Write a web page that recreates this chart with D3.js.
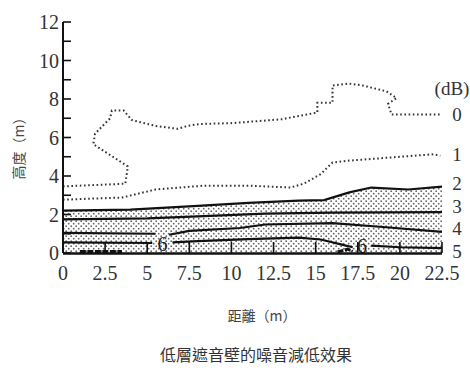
<!DOCTYPE html>
<html><head><meta charset="utf-8">
<script src="https://cdn.jsdelivr.net/npm/d3@7"></script>
<style>
html,body{margin:0;padding:0;background:#fff;}
svg{display:block;}
</style>
</head><body>
<svg id="c" width="470" height="374"></svg>
<script>
// ---- data ----
const xTicks = [0, 2.5, 5, 7.5, 10, 12.5, 15, 17.5, 20, 22.5];
const xTickLabels = ["0", "2.5", "5", "7.5", "10", "12.5", "15", "17.5", "20", "22.5"];
const yTicks = [0, 2, 4, 6, 8, 10, 12];
const yMinorTicks = [1, 3, 5, 7, 9, 11];
const contourLabels = ["0", "1", "2", "3", "4", "5"];
const contourLabelY = [7.2, 5.1, 3.6, 2.4, 1.25, 0.1];
const db0 = [[0,3.46],[3.7,3.6],[3.85,4.5],[1.8,5.65],[1.9,6.2],[2.8,7.0],[2.9,7.4],[3.6,7.4],[4.1,6.9],[5.5,6.6],[6.8,6.45],[7.4,6.6],[8.1,6.7],[10.1,6.75],[13.0,6.95],[14.5,7.2],[15.1,7.3],[15.1,7.8],[16.0,7.8],[16.0,8.7],[17.0,8.8],[17.8,8.7],[19.2,8.4],[19.8,8.05],[19.3,7.75],[19.5,7.2],[22.4,7.2]];
const db1 = [[0,2.77],[3.5,2.88],[5.5,3.3],[8.4,3.5],[11,3.5],[13.5,3.4],[14.3,3.6],[15.3,4.1],[16.0,4.7],[17.0,4.8],[22.0,5.13],[22.4,5.05]];
const db2 = [[0,2.2],[4,2.25],[8,2.45],[11,2.6],[14,2.72],[15.5,2.75],[17,3.15],[18.3,3.4],[20.5,3.3],[22.5,3.45]];
const db3 = [[0,1.75],[5,1.8],[8,1.9],[12,2.05],[16,2.1],[22.5,2.12]];
const db4a = [[0,1.05],[5.5,1.0]];
const db4b = [[6.3,0.95],[7.5,1.15],[10.5,1.3],[12,1.48],[16,1.55],[19,1.35],[22.5,1.1]];
const db5a = [[0,0.55],[5.3,0.52]];
const db5b = [[6.5,0.55],[8,0.62],[11,0.72],[14,0.8],[15.3,0.7],[16.5,0.45],[17.2,0.3]];
const db5c = [[18.3,0.38],[20,0.3],[22.5,0.25]];
const db6a = [[1.0,0.08],[3.5,0.08]];
const db6b = [[16.3,0.05],[16.9,0.2],[17.2,0.08]];
const label6 = [[5.9,0.5],[17.75,0.38]];

// ---- chart ----
const svg = d3.select("#c");
const x = d3.scaleLinear().domain([0,22.5]).range([63,442]);
const y = d3.scaleLinear().domain([0,12]).range([253,22]);
const line = d3.line().x(d=>x(d[0])).y(d=>y(d[1]));

const defs = svg.append("defs");
const pat = defs.append("pattern").attr("id","stip").attr("patternUnits","userSpaceOnUse")
  .attr("width",5).attr("height",5);
pat.append("circle").attr("cx",1.2).attr("cy",1.2).attr("r",0.9).attr("fill","#666");
pat.append("circle").attr("cx",3.7).attr("cy",3.7).attr("r",0.9).attr("fill","#666");

// stipple area under 2 dB
const area = d3.area().x(d=>x(d[0])).y0(y(0)).y1(d=>y(d[1]));
svg.append("path").datum(db2).attr("d",area).attr("fill","url(#stip)");

// dotted contours
[db0, db1].forEach(d=>{
  svg.append("path").datum(d).attr("d",line).attr("fill","none")
    .attr("stroke","#333").attr("stroke-width",2).attr("stroke-dasharray","1.6,2.6");
});
// solid contours
[db2, db3, db4a, db4b, db5a, db5b, db5c].forEach(d=>{
  svg.append("path").datum(d).attr("d",line).attr("fill","none")
    .attr("stroke","#111").attr("stroke-width",2.2);
});
[db6a, db6b].forEach(d=>{
  svg.append("path").datum(d).attr("d",line).attr("fill","none")
    .attr("stroke","#111").attr("stroke-width",3).attr("stroke-dasharray","6,1.5");
});
// "6" labels
label6.forEach(p=>{
  svg.append("text").attr("x",x(p[0])).attr("y",y(p[1])).attr("dy","0.36em")
    .attr("text-anchor","middle").attr("font-family","Liberation Serif")
    .attr("font-size",20).attr("fill","#222").text("6");
});

// axes
svg.append("line").attr("x1",x(0)).attr("x2",x(0)).attr("y1",y(12)).attr("y2",y(0))
  .attr("stroke","#111").attr("stroke-width",2);
svg.append("line").attr("x1",x(0)).attr("x2",x(22.5)).attr("y1",y(0)+0.5).attr("y2",y(0)+0.5)
  .attr("stroke","#111").attr("stroke-width",2.5);
yTicks.concat(yMinorTicks).forEach(v=>{
  svg.append("line").attr("x1",x(0)).attr("x2",x(0)+8).attr("y1",y(v)).attr("y2",y(v))
    .attr("stroke","#111").attr("stroke-width",1.6);
});
xTicks.slice(1).forEach(v=>{
  svg.append("line").attr("x1",x(v)).attr("x2",x(v)).attr("y1",y(0)).attr("y2",y(0)-11)
    .attr("stroke","#111").attr("stroke-width",1.6);
});
yTicks.forEach(v=>{
  svg.append("text").attr("x",59).attr("y",y(v)).attr("dy","0.36em")
    .attr("text-anchor","end").attr("font-family","Liberation Serif")
    .attr("font-size",20).attr("fill","#333").text(v);
});
xTicks.forEach((v,i)=>{
  svg.append("text").attr("x",x(v)).attr("y",273).attr("dy","0.36em")
    .attr("text-anchor","middle").attr("font-family","Liberation Serif")
    .attr("font-size",20).attr("fill","#333").text(xTickLabels[i]);
});
// contour labels on right
contourLabels.forEach((t,i)=>{
  svg.append("text").attr("x",457).attr("y",y(contourLabelY[i])).attr("dy","0.34em")
    .attr("text-anchor","middle").attr("font-family","Liberation Serif")
    .attr("font-size",19).attr("fill","#333").text(t);
});
svg.append("text").attr("x",452).attr("y",88).attr("dy","0.36em")
  .attr("text-anchor","middle").attr("font-family","Liberation Serif")
  .attr("font-size",19).attr("fill","#333").text("(dB)");

// axis titles
svg.append("text").attr("transform","translate(19,145) rotate(-90)")
  .attr("text-anchor","middle").attr("dy","0.36em")
  .attr("font-family","Noto Sans CJK TC").attr("font-size",14).attr("fill","#444").text("高度（m）");
svg.append("text").attr("x",262).attr("y",316).attr("dy","0.36em")
  .attr("text-anchor","middle").attr("font-family","Noto Sans CJK TC")
  .attr("font-size",14).attr("fill","#444").text("距離（m）");
svg.append("text").attr("x",256).attr("y",355).attr("dy","0.36em")
  .attr("text-anchor","middle").attr("font-family","Noto Sans CJK TC")
  .attr("font-size",16).attr("fill","#333").text("低層遮音壁的噪音減低效果");
</script>
</body></html>
